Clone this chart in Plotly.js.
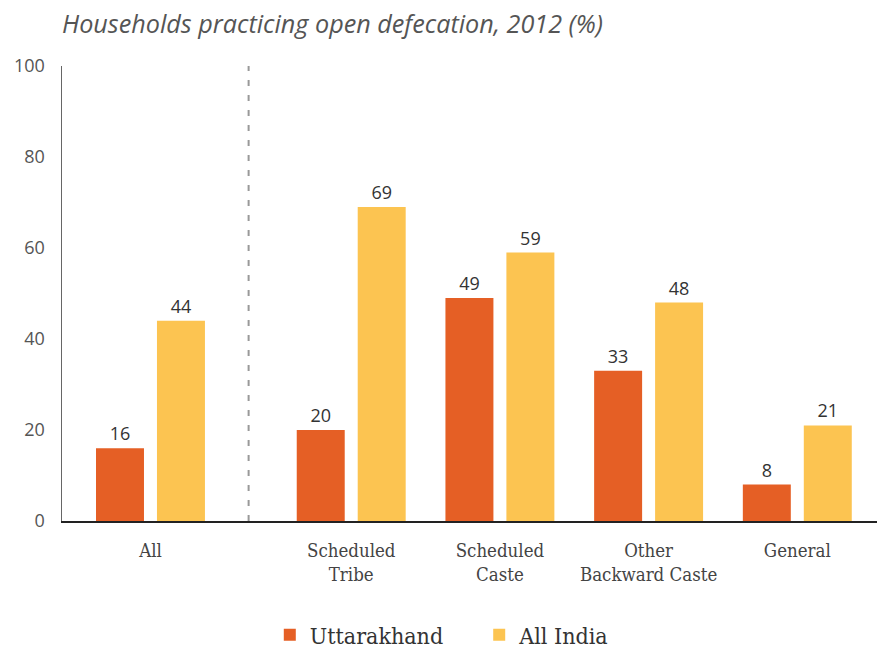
<!DOCTYPE html>
<html>
<head>
<meta charset="utf-8">
<script src="https://cdn.plot.ly/plotly-3.0.1.min.js"></script>
<style>html,body{margin:0;padding:0;background:#fff;}#chart{width:877px;height:650px;}</style>
</head>
<body>
<div id="chart"></div>
<script>
const categories = ["All", "Scheduled<br>Tribe", "Scheduled<br>Caste", "Other<br>Backward Caste", "General"];
const positions = [0, 1.35, 2.35, 3.35, 4.35];
const seriesNames = ["Uttarakhand", "All India"];
const uttarakhand = [16, 20, 49, 33, 8];
const allIndia = [44, 69, 59, 48, 21];
const yTicks = [0, 20, 40, 60, 80, 100];
const dividerX = 0.66;

const slab = "DejaVu Serif Condensed, DejaVu Serif, serif";
const sans = "Open Sans, sans-serif";

const traces = [
  {type: "bar", name: seriesNames[0] + "\u2002\u2002\u2002", x: positions, y: uttarakhand,
   marker: {color: "#E55F25"}, text: uttarakhand.map(String), textposition: "outside",
   textfont: {family: sans, size: 18, color: "#333"}, cliponaxis: false, hoverinfo: "skip"},
  {type: "bar", name: seriesNames[1], x: positions, y: allIndia,
   marker: {color: "#FCC451"}, text: allIndia.map(String), textposition: "outside",
   textfont: {family: sans, size: 18, color: "#333"}, cliponaxis: false, hoverinfo: "skip"}
];

const layout = {
  width: 877, height: 650,
  margin: {l: 62, r: 0, t: 66, b: 129, autoexpand: false},
  paper_bgcolor: "#fff", plot_bgcolor: "#fff",
  barmode: "group", bargap: 0.18, bargroupgap: 0.213,
  title: {text: "<i>Households practicing open defecation, 2012 (%)</i>",
          x: 0, xref: "paper", xanchor: "left", y: 0.963, yanchor: "middle",
          font: {family: sans, size: 25.2, color: "#555"}},
  xaxis: {range: [-0.595, 4.886], tickvals: positions, ticktext: categories,
          showgrid: false, zeroline: false, showline: true, linecolor: "#222", linewidth: 1.5,
          ticks: "", ticklabelstandoff: 12,
          tickfont: {family: slab, size: 18.5, color: "#444"}, fixedrange: true},
  yaxis: {range: [0, 100], tickvals: yTicks, showgrid: false, zeroline: false,
          showline: true, linecolor: "#666", linewidth: 1.5, ticks: "",
          ticklabelstandoff: 12,
          tickfont: {family: sans, size: 18, color: "#555"}, fixedrange: true},
  shapes: [{type: "line", xref: "x", yref: "y", x0: dividerX, x1: dividerX, y0: 0, y1: 100,
            line: {color: "#999", width: 2, dash: "6px,9px"}}],
  showlegend: true,
  legend: {orientation: "h", x: 0.466, xanchor: "center", y: -0.25, yanchor: "middle",
           font: {family: slab, size: 23, color: "#333"}, itemwidth: 30, tracegroupgap: 0,
           traceorder: "normal"}
};

Plotly.newPlot("chart", traces, layout, {displayModeBar: false, staticPlot: true});
</script>
</body>
</html>
